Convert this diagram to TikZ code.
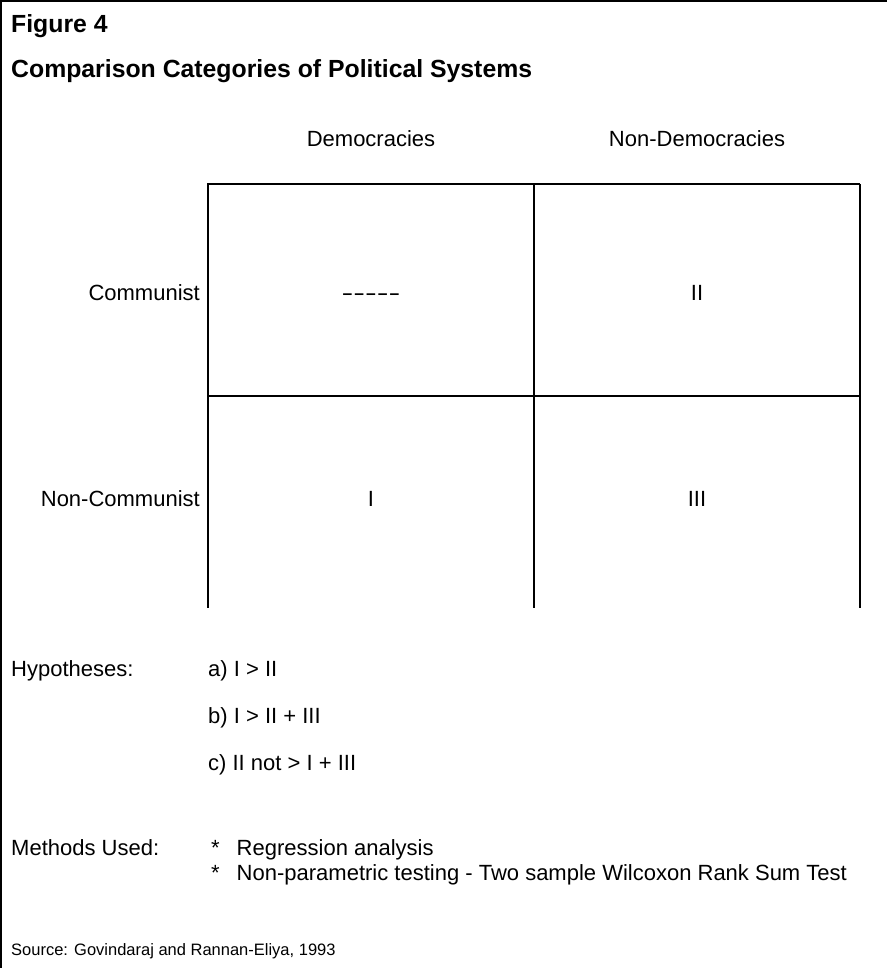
\documentclass[tikz,border=0pt]{standalone}
\usepackage{fontspec}
\setmainfont{Liberation Sans}

\begin{document}
\begin{tikzpicture}[x=1pt,y=-1pt,
    txt/.style={inner sep=0pt, font=\fontsize{22}{25}\selectfont},
    titel/.style={inner sep=0pt, font=\fontsize{24.8}{28}\selectfont\bfseries},
    quelle/.style={inner sep=0pt, font=\fontsize{16.5}{19}\selectfont},
    strich/.style={line width=1.3pt}]
\useasboundingbox (0,0) rectangle (887,968);
    % Rahmen:
    \draw[strich] (1,968) -- (1,1) -- (887,1); % links und oben
    % Ueberschrift:
    \node[titel, anchor=base west] (fig) at (11,33) {Figure 4};
    \node[titel, anchor=base west] (title) at (11,78) {Comparison Categories of Political Systems};
    % Tabelle:
    \draw[strich] (207,184) -- (860,184); % oberer Strich
    \draw[strich] (208,396) -- (860,396); % mittlerer Strich
    \draw[strich] (208,184) -- (208,608); % linker Strich
    \draw[strich] (534,184) -- (534,608); % mittlerer Strich
    \draw[strich] (860,184) -- (860,608); % rechter Strich
    % Spaltenkoepfe:
    \node[txt, anchor=base] (dem) at (371,147) {Democracies};
    \node[txt, anchor=base] (nondem) at (697,147) {Non-Democracies};
    % Zeilenkoepfe:
    \node[txt, anchor=base east] (com) at (200,300) {Communist};
    \node[txt, anchor=base east] (noncom) at (200,506) {Non-Communist};
    % Felder:
    \node[txt, anchor=base] (none) at (371,300) {\scalebox{1.6}[1]{\mbox{-}\mbox{-}\mbox{-}\mbox{-}\mbox{-}}};
    \node[txt, anchor=base] (two) at (697,300) {II};
    \node[txt, anchor=base] (one) at (371,506) {I};
    \node[txt, anchor=base] (three) at (697,506) {III};
    % Hypothesen:
    \node[txt, anchor=base west] (hyp) at (11,676) {Hypotheses:};
    \node[txt, anchor=base west] (hypa) at (208,676) {a) I > II};
    \node[txt, anchor=base west] (hypb) at (208,723) {b) I > II + III};
    \node[txt, anchor=base west] (hypc) at (208,770) {c) II not > I + III};
    % Methoden:
    \node[txt, anchor=base west] (meth) at (11,855) {Methods Used:};
    \node[txt, anchor=base west] (metha) at (211,855) {*\hspace{17pt}Regression analysis};
    \node[txt, anchor=base west] (methb) at (211,880) {*\hspace{17pt}Non-parametric testing - Two sample Wilcoxon Rank Sum Test};
    % Quelle:
    \node[quelle, anchor=base west] (src) at (11,955) {Source: Govindaraj and Rannan-Eliya, 1993};
\end{tikzpicture}
\end{document}
